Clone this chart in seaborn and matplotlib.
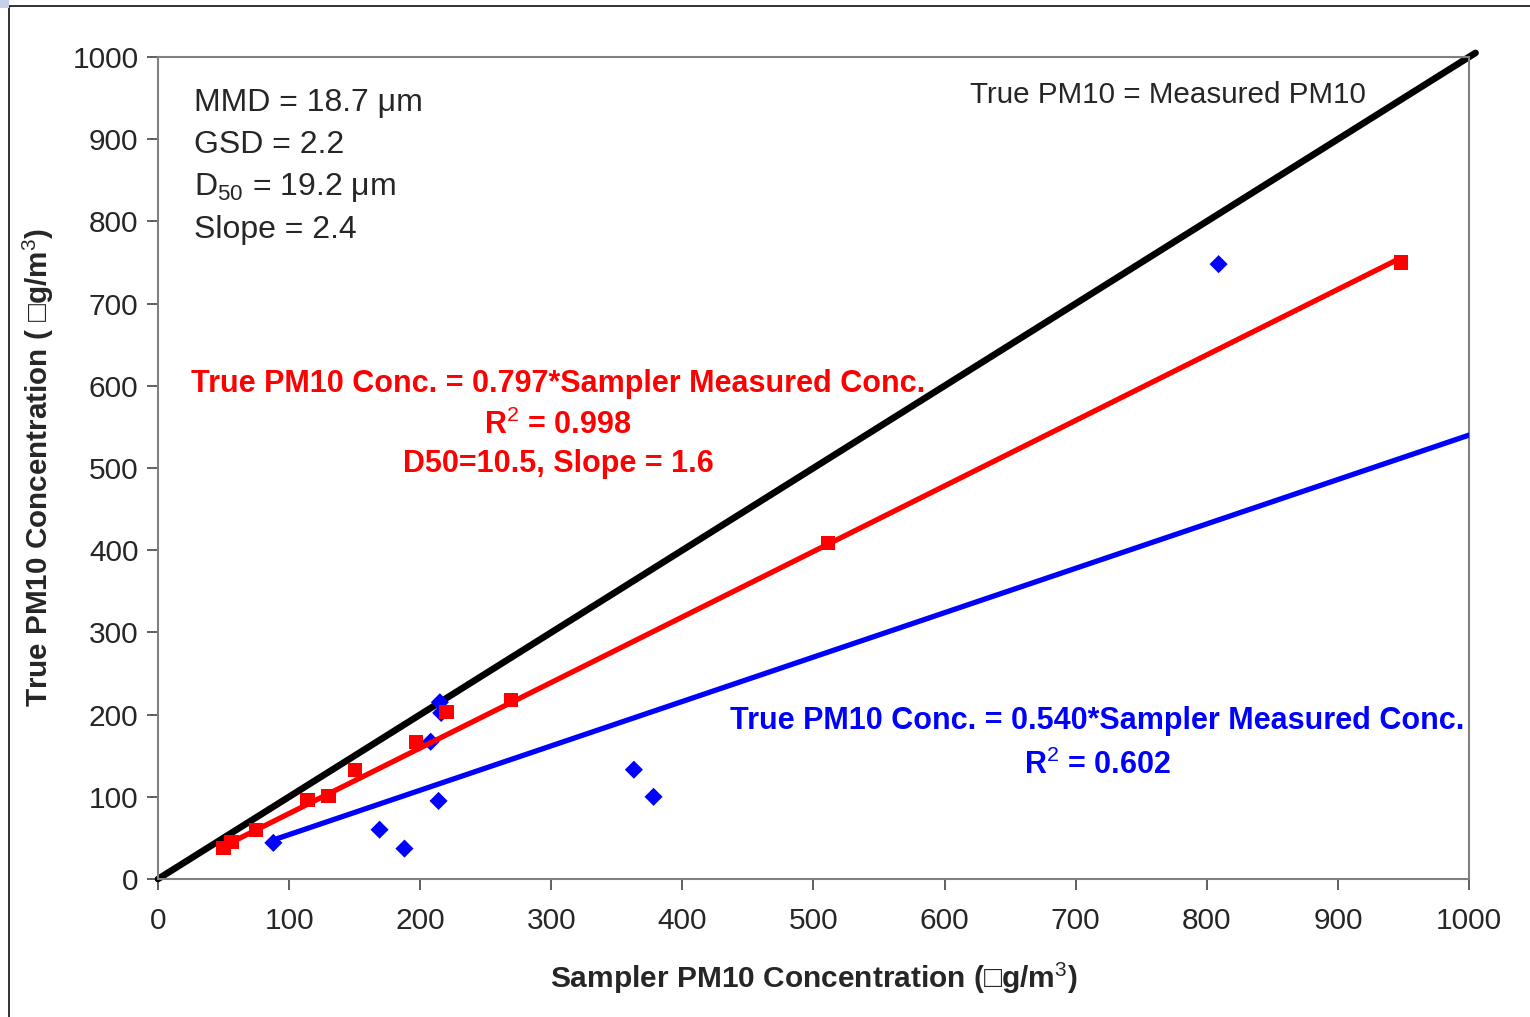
import matplotlib
matplotlib.use("Agg")
import matplotlib.pyplot as plt
import seaborn as sns
import pandas as pd
from matplotlib.patches import Rectangle

# ---- data ----
red_x = [50, 56, 75, 114, 130, 150, 197, 220, 269, 511, 948]
red_y = [38, 45, 60, 96, 101, 133, 167, 203, 218, 409, 750]
blue_x = [88, 169, 188, 208, 214, 215, 216, 363, 378, 809]
blue_y = [44, 60, 37, 167, 95, 215, 202, 133, 100, 748]
red_slope = 0.797
blue_slope = 0.540
xticks = [0, 100, 200, 300, 400, 500, 600, 700, 800, 900, 1000]
yticks = [0, 100, 200, 300, 400, 500, 600, 700, 800, 900, 1000]

sns.set_style("white")
plt.rcParams['font.family'] = ['Liberation Sans', 'DejaVu Sans']
plt.rcParams['mathtext.fontset'] = 'custom'
plt.rcParams['mathtext.rm'] = 'Liberation Sans'
plt.rcParams['mathtext.bf'] = 'Liberation Sans:bold'

fig = plt.figure(figsize=(15.3, 10.17), dpi=100)
ax = fig.add_axes([158/1530, 1-879/1017, (1469-158)/1530, (879-57)/1017])

# outer frame like the slide
fig.patches.append(Rectangle((9/1530, -0.05), 1.1, 1-6/1017+0.05, transform=fig.transFigure,
                             fill=False, edgecolor='#222222', linewidth=1.3, zorder=0))
fig.patches.append(Rectangle((0, 1-8/1017), 9/1530, 8/1017, transform=fig.transFigure,
                             facecolor='#c8cfea', edgecolor='none', zorder=0))

# lines
line_df = pd.DataFrame({'x': [0, 1005], 'y': [0, 1005]})
sns.lineplot(data=line_df, x='x', y='y', color='black', linewidth=4.8, ax=ax,
             clip_on=False, zorder=2)
bl = pd.DataFrame({'x': [min(blue_x), 1000]})
bl['y'] = blue_slope * bl['x']
sns.lineplot(data=bl, x='x', y='y', color='#0000ff', linewidth=3.8, ax=ax, zorder=3)
rl = pd.DataFrame({'x': [min(red_x), max(red_x)]})
rl['y'] = red_slope * rl['x']
sns.lineplot(data=rl, x='x', y='y', color='#ff0000', linewidth=3.8, ax=ax, zorder=4)

# markers
sns.scatterplot(x=blue_x, y=blue_y, marker='D', s=85, color='#0000ff', edgecolor='none',
                ax=ax, zorder=3.5)
sns.scatterplot(x=red_x, y=red_y, marker='s', s=105, color='#ff0000', edgecolor='none',
                ax=ax, zorder=5)

ax.set_xlim(0, 1000)
ax.set_ylim(0, 1000)
ax.set_xticks(xticks)
ax.set_yticks(yticks)
ax.tick_params(axis='both', direction='out', length=8, width=1.2, color='#444444',
               labelsize=21.5, left=True, bottom=True)
ax.tick_params(axis='x', pad=12)
ax.tick_params(axis='y', pad=6)
for s in ax.spines.values():
    s.set_color('#808080')
    s.set_linewidth(1.5)

ax.set_xlabel('Sampler PM10 Concentration (\u25a1g/m$^{3}$)', fontsize=21.5, fontweight='bold',
              labelpad=18)
ax.set_ylabel('True PM10 Concentration ( \u25a1g/m$^{3}$)', fontsize=21.3, fontweight='bold',
              labelpad=12)

def px(xp, yp):
    return ((xp - 158) / 1311 * 1000, (879 - yp) / 822 * 1000)

for txt, yp in [('MMD = 18.7 \u03bcm', 103), ('GSD = 2.2', 145),
                ('D$_{50}$ = 19.2 \u03bcm', 188), ('Slope = 2.4', 230)]:
    ax.text(*px(194, yp), txt, fontsize=23, ha='left', va='center')

ax.text(*px(1168, 95), 'True PM10 = Measured PM10', fontsize=21.3, ha='center', va='center')

red_lines = [('True PM10 Conc. = 0.797*Sampler Measured Conc.', 384),
             ('R$^{2}$ = 0.998', 425), ('D50=10.5, Slope = 1.6', 464)]
for txt, yp in red_lines:
    ax.text(*px(558, yp), txt, fontsize=22, fontweight='bold', color='#ff0000',
            ha='center', va='center')
blue_lines = [('True PM10 Conc. = 0.540*Sampler Measured Conc.', 721),
              ('R$^{2}$ = 0.602', 765)]
for txt, yp in blue_lines:
    ax.text(*px(1097, yp), txt, fontsize=22, fontweight='bold', color='#0000ff',
            ha='center', va='center')

fig.savefig('out.png', dpi=100)
